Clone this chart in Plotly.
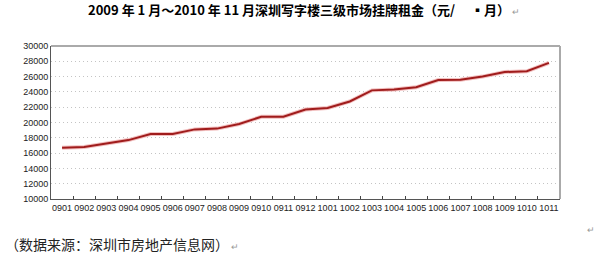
import plotly.graph_objects as go

months = ["0901","0902","0903","0904","0905","0906","0907","0908","0909","0910","0911","0912",
          "1001","1002","1003","1004","1005","1006","1007","1008","1009","1010","1011"]
rents = [16700, 16800, 17250, 17700, 18500, 18500, 19100, 19200, 19800, 20750, 20750, 21700,
         21900, 22750, 24200, 24300, 24600, 25550, 25600, 26000, 26600, 26700, 27800]
y_ticks = list(range(10000, 30001, 2000))

title = "2009 年 1 月～2010 年 11 月深圳写字楼三级市场挂牌租金（元/　 ▪月）"
source = "（数据来源：深圳市房地产信息网）"

num_font = "Liberation Sans Narrow, Liberation Sans, Arial"
cjk = "Noto Sans CJK SC"
ret = '<span style="color:#999;font-size:9px;font-weight:normal"> ↵</span>'

fig = go.Figure()
fig.add_trace(go.Scatter(x=months, y=rents, mode="lines",
                         line=dict(color="#F2C0C0", width=4), hoverinfo="skip", showlegend=False))
fig.add_trace(go.Scatter(x=months, y=rents, mode="lines",
                         line=dict(color="#A01C1C", width=2), showlegend=False))

fig.update_layout(
    width=610, height=266,
    margin=dict(l=51, r=50, t=46, b=67),
    paper_bgcolor="white", plot_bgcolor="white",
    xaxis=dict(type="category", tickson="boundaries", ticks="inside", ticklen=3,
               tickcolor="#444", showline=True, linecolor="#555", linewidth=1,
               showgrid=False, tickfont=dict(family=num_font, size=9, color="#222"),
               tickangle=0, mirror=False, range=[-0.5, 22.5]),
    yaxis=dict(range=[10000, 30000], tickvals=y_ticks, ticktext=[str(v) for v in y_ticks],
               ticks="", showline=True,
               linecolor="#555", linewidth=1, showgrid=True, gridcolor="#C4C4C4",
               griddash="1px,3px", gridwidth=1, zeroline=False,
               tickfont=dict(family=num_font, size=9, color="#222")),
    shapes=[
        dict(type="line", xref="paper", yref="paper", x0=0, x1=1, y0=1, y1=1,
             line=dict(color="#AAAAAA", width=2)),
        dict(type="line", xref="paper", yref="paper", x0=1, x1=1, y0=0, y1=1,
             line=dict(color="#AAAAAA", width=2)),
    ],
    annotations=[
        dict(text=title + ret, xref="paper", yref="paper", x=0.5, y=1, xanchor="center", yanchor="bottom",
             xshift=-2, yshift=25, showarrow=False,
             font=dict(family=cjk, size=13, color="black", weight="bold")),
        dict(text="↵", xref="paper", yref="paper", x=1, y=0, xanchor="left", yanchor="top",
             xshift=25, yshift=-22, showarrow=False, font=dict(family=cjk, size=9, color="#999")),
        dict(text=source + ret, xref="paper", yref="paper",
             x=0, y=0, xanchor="left", yanchor="top", xshift=-48, yshift=-33, showarrow=False,
             font=dict(family=cjk, size=14, color="#222")),
    ],
)

fig.write_html("out.html")
